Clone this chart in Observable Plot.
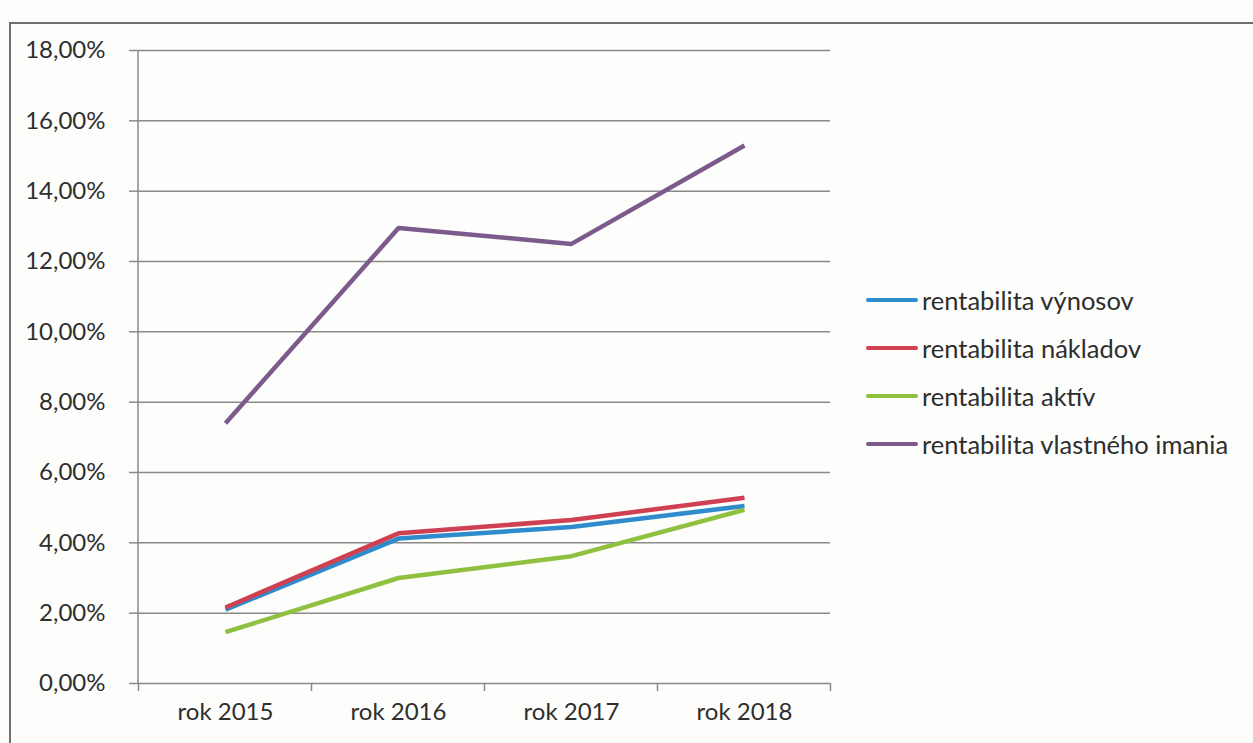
<!DOCTYPE html>
<html>
<head>
<meta charset="utf-8">
<script src="https://cdn.jsdelivr.net/npm/d3@7"></script>
<script src="https://cdn.jsdelivr.net/npm/@observablehq/plot@0.6"></script>
<style>
  body { margin: 0; background: #fdfdfb; }
  #wrap { position: relative; width: 1253px; height: 743px; overflow: hidden; font-family: Lato, "Open Sans", sans-serif; }
  #border { position: absolute; left: 9px; top: 22px; width: 1300px; height: 800px; border: 2px solid #6f6f6f; box-sizing: border-box; }
  #chart { position: absolute; left: 0; top: 0; }
  #legend { position: absolute; left: 866px; top: 276px; }
  .item { display: flex; align-items: center; height: 48px; font-size: 25.5px; color: #2e2e2e; }
  .swatch { width: 52px; height: 4px; border-radius: 2px; margin-right: 4px; }
</style>
</head>
<body>
<div id="wrap">
  <div id="border"></div>
  <div id="chart"></div>
  <div id="legend"></div>
</div>
<script>
const years = ["rok 2015", "rok 2016", "rok 2017", "rok 2018"];
const seriesNames = ["rentabilita výnosov", "rentabilita nákladov", "rentabilita aktív", "rentabilita vlastného imania"];
const vynosov = [2.10, 4.12, 4.45, 5.05];
const nakladov = [2.16, 4.27, 4.65, 5.28];
const aktiv = [1.46, 3.00, 3.62, 4.94];
const imania = [7.40, 12.95, 12.50, 15.30];
const yTicks = [0, 2, 4, 6, 8, 10, 12, 14, 16, 18];
const colors = ["#2f8ccc", "#cf4152", "#8fc03f", "#7c5a8c"];

const seriesValues = [vynosov, nakladov, aktiv, imania];
const rows = [];
seriesNames.forEach((name, s) => {
  years.forEach((yr, i) => rows.push({series: name, year: yr, value: seriesValues[s][i]}));
});

const fmt = v => v.toFixed(2).replace(".", ",") + "%";

// Excel-style category axis: y axis line and tick marks between categories
const categoryTicks = (index, scales, values, dimensions) => {
  const x = scales.x, y = scales.y;
  const step = x(years[1]) - x(years[0]);
  const g = d3.create("svg:g").attr("stroke", "#8a8a8a").attr("stroke-width", 1.5);
  g.append("line")
    .attr("x1", dimensions.marginLeft).attr("x2", dimensions.marginLeft)
    .attr("y1", y(18)).attr("y2", y(0));
  const bounds = [x(years[0]) - step / 2, ...years.map(c => x(c) + step / 2)];
  for (const b of bounds) {
    g.append("line").attr("x1", b).attr("x2", b).attr("y1", y(0)).attr("y2", y(0) + 8);
  }
  return g.node();
};

const chart = Plot.plot({
  width: 1253,
  height: 743,
  marginLeft: 138,
  marginRight: 423,
  marginTop: 50,
  marginBottom: 60,
  style: { fontFamily: "Lato, 'Open Sans', sans-serif", fontSize: "24px", color: "#2e2e2e", background: "transparent" },
  x: { type: "point", domain: years, padding: 0.5 },
  y: { domain: [0, 18] },
  color: { domain: seriesNames, range: colors },
  marks: [
    Plot.gridY(yTicks, { stroke: "#8a8a8a", strokeOpacity: 1, strokeWidth: 1.5 }),
    Plot.axisY(yTicks, { tickSize: 9, tickPadding: 24, tickFormat: fmt, stroke: "#8a8a8a", strokeWidth: 1.5, label: null, fontSize: 24 }),
    Plot.axisX({ tickSize: 0, tickPadding: 19, label: null, fontSize: 24 }),
    categoryTicks,
    Plot.line(rows, { x: "year", y: "value", z: "series", stroke: "series", strokeWidth: 4.5, strokeLinejoin: "miter", strokeLinecap: "butt" })
  ]
});
document.getElementById("chart").appendChild(chart);

const legend = document.getElementById("legend");
seriesNames.forEach((name, i) => {
  const item = document.createElement("div");
  item.className = "item";
  const sw = document.createElement("div");
  sw.className = "swatch";
  sw.style.background = colors[i];
  const t = document.createElement("span");
  t.textContent = name;
  item.appendChild(sw);
  item.appendChild(t);
  legend.appendChild(item);
});
</script>
</body>
</html>
